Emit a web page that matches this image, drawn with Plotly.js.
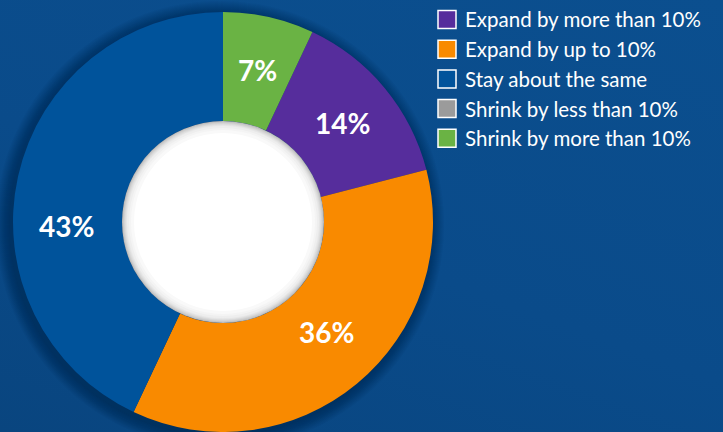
<!DOCTYPE html>
<html>
<head>
<meta charset="utf-8">
<script src="https://cdn.plot.ly/plotly-3.0.1.min.js"></script>
<style>
html,body{margin:0;padding:0;width:723px;height:432px;overflow:hidden;
background:linear-gradient(200deg,#0b4f8f 0%,#0a4b8a 55%,#09457f 100%);}
#chart{width:723px;height:432px;}
</style>
</head>
<body>
<div id="chart"></div>
<script>
var labels = ["Expand by more than 10%", "Expand by up to 10%", "Stay about the same", "Shrink by less than 10%", "Shrink by more than 10%"];
var values = [14, 36, 43, 0, 7];
var colors = ["#562d9c", "#f98a00", "#00539b", "#9b9b9b", "#6ab344"];

var W = 723, H = 432;
var cx = 223, cy = 222, R = 210, rHole = 101;
var total = values.reduce(function(a,b){return a+b;},0);
var rotation = values[values.length-1] / total * 360;

// slice label placement (pixel positions of the percentage labels)
var labelPos = [null, [326, 332], [66, 226], null, [257, 70]];

var texts = values.map(function(v, i){ return (v > 0 && !labelPos[i]) ? v + "%" : ""; });
var labelFont = {family: "Lato, 'Open Sans', sans-serif", size: 28, color: "#ffffff", weight: "bold"};

var trace = {
  type: "pie",
  labels: labels,
  values: values,
  text: texts,
  textinfo: "text",
  textposition: "inside",
  insidetextorientation: "horizontal",
  sort: false,
  direction: "clockwise",
  rotation: rotation,
  hole: rHole / R,
  marker: {colors: colors, line: {width: 0}},
  textfont: labelFont,
  domain: {x: [(cx - R) / W, (cx + R) / W], y: [(H - cy - R) / H, (H - cy + R) / H]},
  showlegend: false,
  hoverinfo: "label+percent"
};

var shapes = [];
var annotations = [];

// soft outer shadow around the pie
for (var k = 14; k >= 1; k--) {
  shapes.push({
    type: "circle", layer: "below", xref: "paper", yref: "paper",
    xsizemode: "pixel", ysizemode: "pixel",
    xanchor: (cx - 3) / W, yanchor: (H - cy - 3) / H,
    x0: -(R + k), x1: R + k, y0: -(R + k), y1: R + k,
    fillcolor: "rgba(3,25,60,0.035)", line: {width: 0}
  });
}
// hole with inner shading
var rings = [
  [0, "#bdbdbd"], [1, "#cbcbcb"], [2, "#d6d6d6"], [3, "#dfdfdf"], [4, "#e7e7e7"],
  [5, "#eeeeee"], [7, "#f4f4f4"], [9, "#f9f9f9"], [12, "#ffffff"]
];
rings.forEach(function(rg){
  var r = rHole - rg[0];
  shapes.push({
    type: "circle", layer: "above", xref: "paper", yref: "paper",
    xsizemode: "pixel", ysizemode: "pixel",
    xanchor: cx / W, yanchor: (H - cy) / H,
    x0: -r, x1: r, y0: -r, y1: r,
    fillcolor: rg[1], line: {width: 0}
  });
});

// percentage labels placed like the original
values.forEach(function(v, i){
  if (!labelPos[i] || v <= 0) return;
  annotations.push({
    xref: "paper", yref: "paper", x: labelPos[i][0] / W, y: 1 - labelPos[i][1] / H,
    xanchor: "center", yanchor: "middle", showarrow: false,
    text: "<b>" + v + "%</b>",
    font: {family: labelFont.family, size: labelFont.size, color: "#ffffff"}
  });
});

// legend
var lx = 438, ly0 = 19.5, dy = 29.7, sq = 18;
labels.forEach(function(lab, i){
  var yc = ly0 + i * dy;
  shapes.push({
    type: "rect", layer: "above", xref: "paper", yref: "paper",
    x0: lx / W, x1: (lx + sq) / W, y0: 1 - (yc + sq/2) / H, y1: 1 - (yc - sq/2) / H,
    fillcolor: colors[i], line: {color: "#ffffff", width: 1.5}
  });
  annotations.push({
    xref: "paper", yref: "paper", x: 463 / W, y: 1 - yc / H,
    xanchor: "left", yanchor: "middle", showarrow: false,
    text: lab,
    font: {family: "Lato, 'Open Sans', sans-serif", size: 20.5, color: "#ffffff"}
  });
});

var layout = {
  width: W, height: H,
  margin: {l: 0, r: 0, t: 0, b: 0},
  paper_bgcolor: "rgba(0,0,0,0)",
  plot_bgcolor: "rgba(0,0,0,0)",
  showlegend: false,
  shapes: shapes,
  annotations: annotations
};

Plotly.newPlot("chart", [trace], layout, {displayModeBar: false, staticPlot: true});
</script>
</body>
</html>
